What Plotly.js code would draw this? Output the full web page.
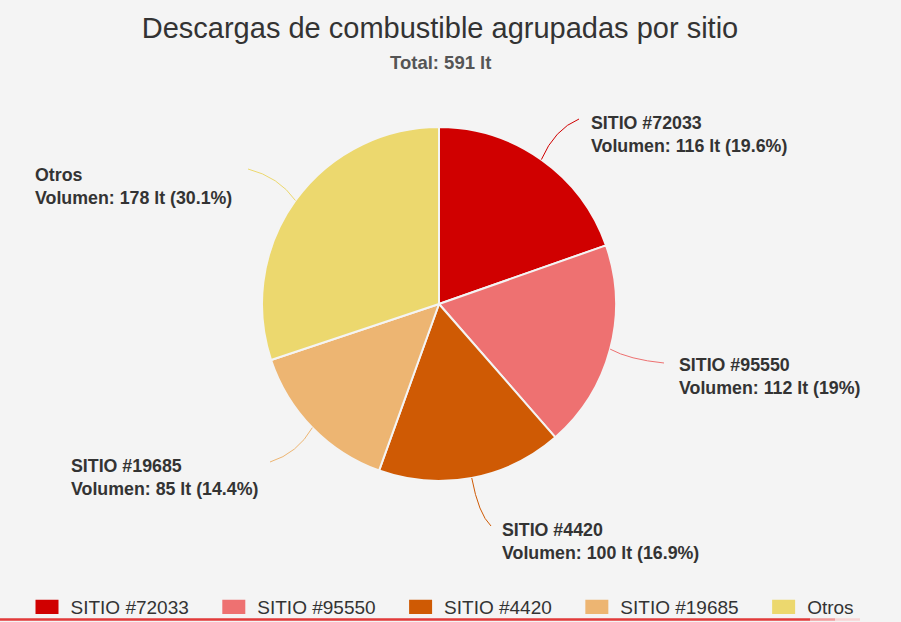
<!DOCTYPE html>
<html>
<head>
<meta charset="utf-8">
<script src="https://cdn.plot.ly/plotly-3.0.1.min.js"></script>
<style>
html, body { margin:0; padding:0; background:#f4f4f4; }
#chart { width:901px; height:622px; }
.legend .legendpoints path { transform: translate(40px,0px) scale(2.3,1.42); }
</style>
</head>
<body>
<div id="chart"></div>
<script>
// ---- data ----
var categories = ["SITIO #72033", "SITIO #95550", "SITIO #4420", "SITIO #19685", "Otros"];
var volumes = [116, 112, 100, 85, 178];
var percentLabels = ["19.6%", "19%", "16.9%", "14.4%", "30.1%"];
var unit = "lt";
var totalLabel = "Total: 591 lt";

// ---- style ----
var colors = ["#d00000", "#ee7171", "#cf5a04", "#edb572", "#ecd86e"];
var W = 901, H = 622;
var cx = 439, cy = 304, R = 177;
// label anchor points (screen px) and connector end points
var labelPos = [
  {x: 589, y: 135, side: "left",  ex: 579, ey: 119},
  {x: 677, y: 376, side: "left",  ex: 664, ey: 363},
  {x: 500, y: 541, side: "left",  ex: 491, ey: 526},
  {x: 260, y: 477, side: "right", ex: 270, ey: 462},
  {x: 234, y: 186, side: "right", ex: 248, ey: 169}
];

function px(x){ return x / W; }
function py(y){ return 1 - y / H; }

var total = volumes.reduce(function(a,b){return a+b;}, 0);
var annotations = [];
var shapes = [];
var cum = 0;
for (var i = 0; i < volumes.length; i++) {
  var mid = (cum + volumes[i] / 2) / total * 2 * Math.PI;
  cum += volumes[i];
  var sx = cx + R * Math.sin(mid), sy = cy - R * Math.cos(mid);
  var lp = labelPos[i];
  shapes.push({
    type: "path", xref: "paper", yref: "paper",
    path: "M" + px(sx) + "," + py(sy) + " Q" + px(sx + (lp.ex - sx) * 0.35) + "," + py(sy + (lp.ey - sy) * 0.75) + " " + px(lp.ex) + "," + py(lp.ey),
    line: {color: colors[i], width: 1}
  });
  annotations.push({
    xref: "paper", yref: "paper", x: px(lp.x), y: py(lp.y),
    xanchor: lp.side === "left" ? "left" : "right", yanchor: "middle", align: "left",
    showarrow: false,
    text: "<b>" + categories[i] + "<br>Volumen: " + volumes[i] + " " + unit + " (" + percentLabels[i] + ")</b>",
    font: {family: "Liberation Sans, Arial, sans-serif", size: 17.8, color: "#333333"}
  });
}
annotations.push({
  xref: "paper", yref: "paper", x: px(440), y: py(63), xanchor: "center", yanchor: "middle",
  showarrow: false, text: "<b>" + totalLabel + "</b>",
  font: {family: "Liberation Sans, Arial, sans-serif", size: 18.5, color: "#555555"}
});
// bottom red rule of the page
shapes.push({type: "line", xref: "paper", yref: "paper", x0: 0, x1: px(810), y0: py(619.5), y1: py(619.5), line: {color: "#e23a3a", width: 2.5}});
shapes.push({type: "line", xref: "paper", yref: "paper", x0: px(810), x1: px(835), y0: py(619.5), y1: py(619.5), line: {color: "#f19a9a", width: 2.5}});
shapes.push({type: "line", xref: "paper", yref: "paper", x0: px(835), x1: px(860), y0: py(619.5), y1: py(619.5), line: {color: "#f8d4d4", width: 2.5}});

var trace = {
  type: "pie",
  labels: categories,
  values: volumes,
  sort: false,
  direction: "clockwise",
  rotation: 0,
  textinfo: "none",
  hoverinfo: "label+value+percent",
  marker: {colors: colors, line: {color: "#f4f4f4", width: 2}},
  domain: {x: [px(cx - R), px(cx + R)], y: [py(cy + R), py(cy - R)]},
  automargin: false
};

var layout = {
  width: W, height: H,
  paper_bgcolor: "#f4f4f4", plot_bgcolor: "#f4f4f4",
  margin: {l: 0, r: 0, t: 0, b: 0, autoexpand: false},
  title: {
    text: "Descargas de combustible agrupadas por sitio",
    x: 440 / W, xanchor: "center", y: py(28), yanchor: "middle",
    font: {family: "Liberation Sans, Arial, sans-serif", size: 29, color: "#333333"}
  },
  showlegend: true,
  legend: {
    orientation: "h", x: px(7), xanchor: "left", y: py(588), yanchor: "top",
    itemwidth: 53.5,
    font: {family: "Liberation Sans, Arial, sans-serif", size: 19, color: "#333333"},
    bgcolor: "rgba(0,0,0,0)"
  },
  annotations: annotations,
  shapes: shapes
};

Plotly.newPlot("chart", [trace], layout, {displayModeBar: false});
</script>
</body>
</html>
